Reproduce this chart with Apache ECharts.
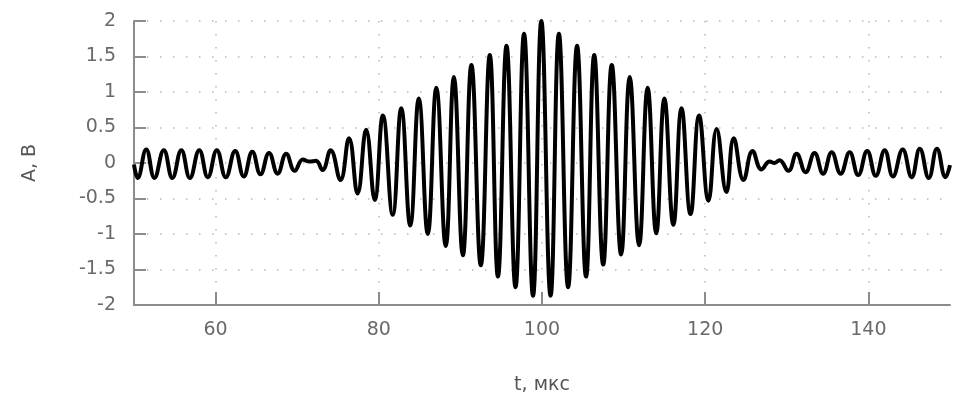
<!DOCTYPE html>
<html>
<head>
<meta charset="utf-8">
<script src="https://cdn.jsdelivr.net/npm/echarts@6/dist/echarts.min.js"></script>
<style>
html,body{margin:0;padding:0;background:#fff;}
#chart{width:954px;height:400px;}
</style>
</head>
<body>
<div id="chart"></div>
<script>
// Extrema of the waveform (t in µs, A in V)
const tValues = [
  50.0, 50.45, 51.5, 52.5, 53.65, 54.7, 55.8, 56.85, 58.0, 59.05,
  60.15, 61.25, 62.4, 63.45, 64.5, 65.5, 66.55, 67.6, 68.65, 69.7,
  70.7, 71.5, 72.3, 73.1, 74.1, 75.3, 76.35, 77.4, 78.45, 79.5,
  80.5, 81.7, 82.75, 83.85, 84.9, 86.0, 87.05, 88.2, 89.2, 90.3,
  91.35, 92.5, 93.6, 94.6, 95.65, 96.75, 97.8, 98.9, 99.92, 101.05,
  102.07, 103.2, 104.3, 105.4, 106.4, 107.5, 108.55, 109.7, 110.75, 111.9,
  112.95, 114.0, 115.0, 116.1, 117.1, 118.2, 119.25, 120.4, 121.4, 122.6,
  123.5, 124.7, 125.8, 126.9, 127.9, 128.5, 129.1, 130.2, 131.2, 132.3,
  133.4, 134.45, 135.5, 136.6, 137.7, 138.75, 139.85, 140.9, 142.0, 143.0,
  144.2, 145.3, 146.3, 147.4, 148.4, 149.45, 150.0
];
const aValues = [
  -0.02, -0.21, 0.19, -0.21, 0.18, -0.21, 0.18, -0.21, 0.18, -0.20,
  0.18, -0.20, 0.17, -0.19, 0.16, -0.16, 0.14, -0.15, 0.13, -0.11,
  0.05, 0.02, 0.03, -0.10, 0.18, -0.24, 0.35, -0.43, 0.47, -0.52,
  0.67, -0.73, 0.77, -0.88, 0.91, -1.00, 1.06, -1.17, 1.21, -1.30,
  1.38, -1.44, 1.52, -1.60, 1.65, -1.75, 1.82, -1.87, 2.00, -1.87,
  1.82, -1.75, 1.65, -1.60, 1.52, -1.43, 1.38, -1.29, 1.21, -1.16,
  1.06, -0.99, 0.91, -0.87, 0.77, -0.72, 0.67, -0.53, 0.48, -0.41,
  0.35, -0.24, 0.17, -0.09, 0.02, 0.00, 0.04, -0.11, 0.13, -0.13,
  0.14, -0.15, 0.15, -0.15, 0.15, -0.17, 0.17, -0.18, 0.18, -0.19,
  0.19, -0.20, 0.20, -0.21, 0.20, -0.20, -0.03
];
const xTicks = [60, 80, 100, 120, 140];
const xName = 't, мкс';
const yName = 'A, В';

const seriesData = tValues.map((t, i) => [t, aValues[i]]);

const chart = echarts.init(document.getElementById('chart'), null, {renderer: 'canvas'});
const fontFamily = 'DejaVu Sans, Verdana, sans-serif';
chart.setOption({
  animation: false,
  backgroundColor: '#ffffff',
  grid: {left: 134, right: 4, top: 21, bottom: 95, containLabel: false},
  xAxis: {
    type: 'value', min: 50, max: 150,
    interval: 20,
    name: xName, nameLocation: 'middle', nameGap: 71,
    nameTextStyle: {fontFamily, fontSize: 19, color: '#555'},
    axisLine: {show: true, onZero: false, lineStyle: {color: '#8c8c8c', width: 2}},
    axisTick: {show: true, inside: true, length: 13, lineStyle: {color: '#8c8c8c', width: 2},
      customValues: xTicks},
    axisLabel: {fontFamily, fontSize: 19, color: '#6a6a6a', margin: 16,
      customValues: xTicks},
    splitLine: {show: true, lineStyle: {color: '#b8b8b8', width: 1.5, type: [1.5, 11.5]}},
    minorTick: {show: false}
  },
  yAxis: {
    type: 'value', min: -2, max: 2, interval: 0.5,
    name: yName, nameLocation: 'middle', nameGap: 94, nameRotate: 90,
    nameTextStyle: {fontFamily, fontSize: 19, color: '#555'},
    axisLine: {show: true, onZero: false, lineStyle: {color: '#8c8c8c', width: 2}},
    axisTick: {show: true, inside: true, length: 12, lineStyle: {color: '#8c8c8c', width: 2}},
    axisLabel: {fontFamily, fontSize: 19, color: '#6a6a6a', margin: 18,
      formatter: v => String(v)},
    splitLine: {show: true, lineStyle: {color: '#b8b8b8', width: 1.5, type: [1.5, 11.5]}}
  },
  series: [{
    type: 'line',
    data: seriesData,
    smooth: 0.45,
    showSymbol: false,
    symbol: 'none',
    lineStyle: {color: '#000', width: 4},
    clip: true
  }]
});
</script>
</body>
</html>
